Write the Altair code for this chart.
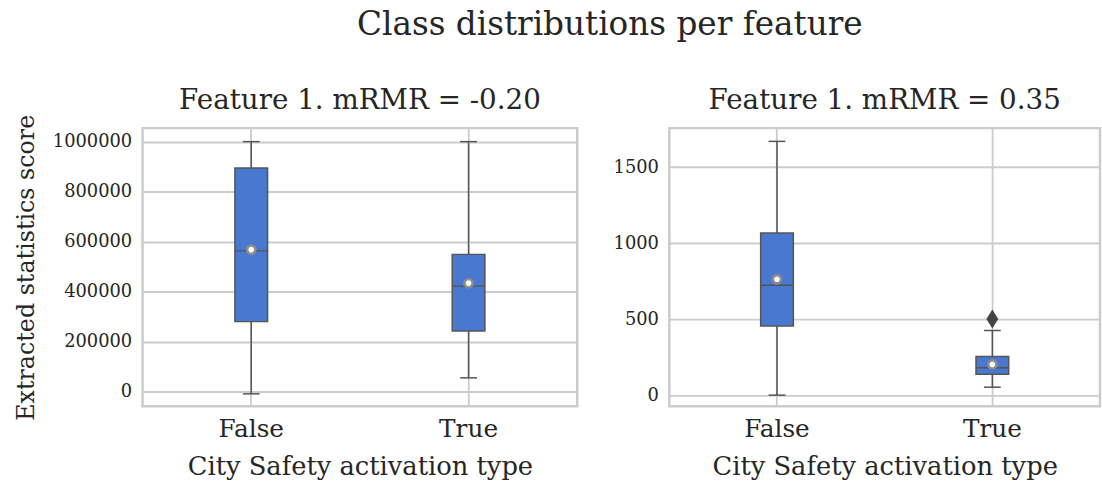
import altair as alt
import pandas as pd

classes = ["False", "True"]

# Left panel (Feature 1. mRMR = -0.20)
left_lo = [-9000, 55000]
left_q1 = [280000, 242000]
left_med = [563000, 422000]
left_q3 = [895000, 549000]
left_hi = [1000000, 1000000]
left_mean = [568000, 434000]
left_ticks = [0, 200000, 400000, 600000, 800000, 1000000]

# Right panel (Feature 1. mRMR = 0.35)
right_lo = [0, 52]
right_q1 = [454, 137]
right_med = [723, 180]
right_q3 = [1066, 254]
right_hi = [1669, 425]
right_mean = [762, 202]
right_out_cls = ["True"]
right_out_val = [501]
right_ticks = [0, 500, 1000, 1500]

FONT = "DejaVu Serif"
TXT = "#262626"
LINE = "#555555"
FILL = "#4878d0"
GRID = "#cccccc"
BOXW = 33


def panel(title, lo, q1, med, q3, hi, mean, domain, ticks, ytitle, w, h, toff,
          out_cls=None, out_val=None):
    df = pd.DataFrame({"cls": classes, "lo": lo, "q1": q1, "med": med,
                       "q3": q3, "hi": hi, "mean": mean})
    xenc = alt.X("cls:N",
                 scale=alt.Scale(domain=classes, paddingInner=0, paddingOuter=0),
                 axis=alt.Axis(title="City Safety activation type", labelAngle=0,
                               bandPosition=0.5, grid=True, ticks=False,
                               domain=False, labelFontSize=25, labelPadding=10,
                               titleFontSize=26, titlePadding=13,
                               labelFont=FONT, titleFont=FONT, labelColor=TXT,
                               titleColor=TXT, titleFontWeight="normal",
                               gridColor=GRID, gridWidth=1.8, gridOpacity=1))

    def Y(field):
        return alt.Y(field, type="quantitative",
                     scale=alt.Scale(domain=domain, nice=False, zero=False),
                     axis=alt.Axis(values=ticks, format="d", title=ytitle,
                                   grid=True, ticks=False, domain=False,
                                   labelFontSize=18, labelPadding=11,
                                   titleFontSize=24, titlePadding=14,
                                   labelFont=FONT, titleFont=FONT, labelColor=TXT,
                                   titleColor=TXT, titleFontWeight="normal",
                                   gridColor=GRID, gridWidth=1.8, gridOpacity=1))

    base = alt.Chart(df).encode(x=xenc)
    whisk = base.mark_rule(color=LINE, strokeWidth=1.5).encode(y=Y("lo"), y2="hi")
    box = base.mark_bar(size=BOXW, fill=FILL, stroke=LINE, strokeWidth=1.5).encode(
        y=Y("q1"), y2="q3")
    medl = base.mark_tick(size=BOXW, thickness=1.5, color=LINE, opacity=1).encode(y=Y("med"))
    caplo = base.mark_tick(size=17, thickness=1.5, color=LINE, opacity=1).encode(y=Y("lo"))
    caphi = base.mark_tick(size=17, thickness=1.5, color=LINE, opacity=1).encode(y=Y("hi"))
    meanp = base.mark_point(shape="circle", fill="white", stroke="#8c8c8c",
                            strokeWidth=2.6, size=70, opacity=1, filled=False).encode(y=Y("mean"))
    layers = [whisk, box, medl, caplo, caphi, meanp]
    if out_cls:
        odf = pd.DataFrame({"cls": out_cls, "val": out_val})
        outp = alt.Chart(odf).mark_point(shape="M0,-1.6L1,0L0,1.6L-1,0Z", filled=True,
                                         color="#444444", size=144,
                                         opacity=1).encode(x=xenc, y=Y("val"))
        layers.append(outp)
    return alt.layer(*layers).properties(
        width=w, height=h,
        title=alt.TitleParams(title, fontSize=28, font=FONT, fontWeight="normal",
                              color=TXT, offset=toff, frame="group"))


left = panel("Feature 1. mRMR = -0.20", left_lo, left_q1, left_med, left_q3, left_hi,
             left_mean, [-59000, 1054000], left_ticks, "Extracted statistics score",
             439, 281, -1)
right = panel("Feature 1. mRMR = 0.35", right_lo, right_q1, right_med, right_q3, right_hi,
              right_mean, [-74, 1756], right_ticks, None, 435, 281, 13,
              out_cls=right_out_cls, out_val=right_out_val)

chart = alt.hconcat(left, right, spacing=32).properties(
    title=alt.TitleParams("Class distributions per feature", fontSize=33, font=FONT,
                          fontWeight="normal", color=TXT, anchor="middle", offset=45,
                          dx=53),
    padding={"left": 13, "top": 6, "right": 0, "bottom": 0},
    background="white",
).configure_view(stroke=GRID, strokeWidth=2.5)

chart.save("out.html", embed_options={"renderer": "svg", "actions": False})
